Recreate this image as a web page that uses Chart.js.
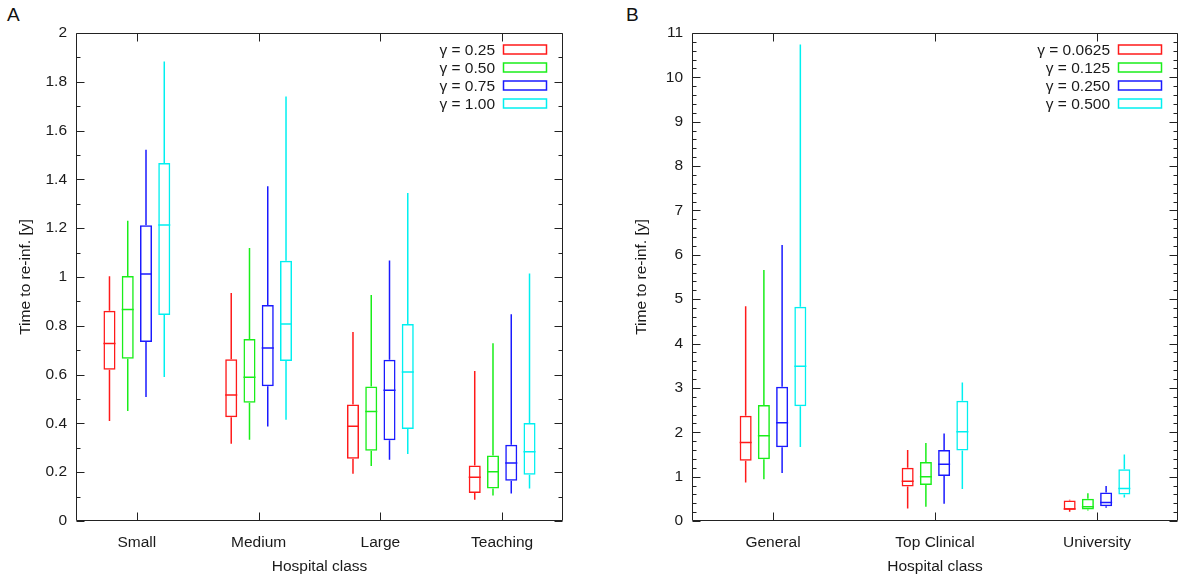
<!DOCTYPE html>
<html>
<head>
<meta charset="utf-8">
<script src="https://cdn.jsdelivr.net/npm/chart.js@4"></script>
<style>
  body { margin: 0; background: #fff; width: 1179px; height: 581px; overflow: hidden; position: relative; font-family: "Liberation Sans", Arial, sans-serif; }
  .panel { position: absolute; top: 0; }
  .tag { position: absolute; top: 5px; font-size: 19px; line-height: 19px; color: #111; }
</style>
</head>
<body>
<div class="tag" style="left:7px">A</div>
<div class="tag" style="left:626px">B</div>
<div class="panel" style="left:0px"><canvas id="chart-a" width="590" height="581"></canvas></div>
<div class="panel" style="left:616px"><canvas id="chart-b" width="563" height="581"></canvas></div>
<script>
// Panel A: hospital classes and gamma values
const categoriesA = ['Small', 'Medium', 'Large', 'Teaching'];
const gammaA = ['γ = 0.25', 'γ = 0.50', 'γ = 0.75', 'γ = 1.00'];
// each row: [whisker low, Q1, median, Q3, whisker high], one row per hospital class
const statsA1 = [[0.41, 0.62, 0.727, 0.862, 1.003], [0.317, 0.425, 0.516, 0.663, 0.934], [0.194, 0.255, 0.388, 0.477, 0.775], [0.087, 0.115, 0.179, 0.227, 0.615]];
const statsA2 = [[0.451, 0.665, 0.867, 1.004, 1.231], [0.333, 0.485, 0.589, 0.746, 1.119], [0.225, 0.288, 0.449, 0.551, 0.926], [0.105, 0.133, 0.202, 0.268, 0.728]];
const statsA3 = [[0.508, 0.734, 1.012, 1.212, 1.522], [0.387, 0.552, 0.709, 0.885, 1.372], [0.251, 0.331, 0.536, 0.661, 1.068], [0.113, 0.165, 0.238, 0.313, 0.847]];
const statsA4 = [[0.59, 0.844, 1.213, 1.467, 1.883], [0.415, 0.656, 0.807, 1.067, 1.74], [0.275, 0.377, 0.611, 0.807, 1.344], [0.133, 0.19, 0.284, 0.402, 1.014]];

// Panel B
const categoriesB = ['General', 'Top Clinical', 'University'];
const gammaB = ['γ = 0.0625', 'γ = 0.125', 'γ = 0.250', 'γ = 0.500'];
const statsB1 = [[0.87, 1.36, 1.77, 2.37, 4.84], [0.28, 0.775, 0.895, 1.2, 1.6], [0.21, 0.255, 0.27, 0.46, 0.48]];
const statsB2 = [[0.94, 1.39, 1.92, 2.615, 5.66], [0.32, 0.81, 1.0, 1.33, 1.76], [0.235, 0.26, 0.32, 0.5, 0.625]];
const statsB3 = [[1.08, 1.66, 2.216, 3.028, 6.22], [0.39, 1.015, 1.28, 1.6, 1.97], [0.3, 0.33, 0.415, 0.64, 0.79]];
const statsB4 = [[1.668, 2.584, 3.486, 4.83, 10.74], [0.72, 1.59, 2.01, 2.71, 3.12], [0.53, 0.6, 0.73, 1.165, 1.5]];

const colors = ['#ff1a1a', '#1aee1a', '#1a1aff', '#00f0f0'];
const textColor = '#1a1a1a';
const font15 = { family: '"Liberation Sans", Arial, sans-serif', size: 15.5 };

// whiskers, medians, frame with inward ticks, and the key
const boxPlugin = {
    id: 'boxes',
    afterDatasetsDraw(chart) {
        const ctx = chart.ctx;
        const y = chart.scales.y;
        ctx.save();
        chart.data.datasets.forEach((ds, i) => {
            const meta = chart.getDatasetMeta(i);
            ctx.strokeStyle = ds.borderColor;
            ctx.lineWidth = 1.5;
            meta.data.forEach((bar, j) => {
                const [lo, q1, med, q3, hi] = ds.stats[j];
                const half = bar.width / 2;
                ctx.beginPath();
                ctx.moveTo(bar.x, y.getPixelForValue(q3));
                ctx.lineTo(bar.x, y.getPixelForValue(hi));
                ctx.moveTo(bar.x, y.getPixelForValue(q1));
                ctx.lineTo(bar.x, y.getPixelForValue(lo));
                ctx.moveTo(bar.x - half, y.getPixelForValue(med));
                ctx.lineTo(bar.x + half, y.getPixelForValue(med));
                ctx.stroke();
            });
        });
        ctx.restore();
    },
    afterDraw(chart, args, opts) {
        const ctx = chart.ctx;
        const area = chart.chartArea;
        const x = chart.scales.x;
        const y = chart.scales.y;
        const L = Math.round(area.left) + 0.5, R = Math.round(area.right) - 0.5;
        const T = Math.round(area.top) + 0.5, B = Math.round(area.bottom) - 0.5;
        ctx.save();
        ctx.strokeStyle = '#222';
        ctx.lineWidth = 1;
        ctx.beginPath();
        ctx.rect(L, T, R - L, B - T);
        // y ticks, major and minor, on both sides
        const n = Math.round((y.max - y.min) / opts.minor);
        const every = Math.round(opts.major / opts.minor);
        for (let k = 0; k <= n; k++) {
            const py = Math.round(y.getPixelForValue(y.min + k * opts.minor)) + 0.5;
            const len = k % every === 0 ? 8 : 4;
            ctx.moveTo(L, py); ctx.lineTo(L + len, py);
            ctx.moveTo(R, py); ctx.lineTo(R - len, py);
        }
        // category ticks, bottom and top
        chart.data.labels.forEach((lab, i) => {
            const px = Math.round(x.getPixelForValue(i)) + 0.5;
            ctx.moveTo(px, B); ctx.lineTo(px, B - 8);
            ctx.moveTo(px, T); ctx.lineTo(px, T + 8);
        });
        ctx.stroke();

        // key
        ctx.font = '15.5px "Liberation Sans", Arial, sans-serif';
        ctx.textAlign = 'right';
        ctx.textBaseline = 'middle';
        chart.data.datasets.forEach((ds, i) => {
            const cy = area.top + 16.5 + 18 * i;
            ctx.fillStyle = textColor;
            ctx.fillText(ds.label, area.right - 68, cy + 1);
            ctx.strokeStyle = ds.borderColor;
            ctx.lineWidth = 1.5;
            ctx.strokeRect(area.right - 59.5, cy - 4.5, 43, 9);
        });
        ctx.restore();
    }
};

function createBoxChart(idChart, categories, labels, statsList, yMax, yStep, minorStep, catPct, padRight) {
    const ctx = document.getElementById(idChart).getContext('2d');
    const datasets = statsList.map((stats, i) => ({
        label: labels[i],
        data: stats.map(s => [s[1], s[3]]),
        stats: stats,
        backgroundColor: 'rgba(0,0,0,0)',
        borderColor: colors[i],
        borderWidth: 1.5,
        borderSkipped: false,
        categoryPercentage: catPct,
        barPercentage: 0.66,
    }));

    return new Chart(ctx, {
        type: 'bar',
        data: { labels: categories, datasets: datasets },
        options: {
            responsive: false,
            animation: false,
            devicePixelRatio: 1,
            layout: { padding: { top: 33, right: padRight, bottom: 5, left: 0 } },
            plugins: {
                legend: { display: false },
                tooltip: { enabled: false },
                boxes: { major: yStep, minor: minorStep },
            },
            scales: {
                x: {
                    grid: { display: false },
                    border: { display: false },
                    ticks: { color: textColor, font: font15, padding: 4, maxRotation: 0 },
                    title: { display: true, text: 'Hospital class', color: textColor, font: font15, padding: { top: 0, bottom: 0 } },
                    afterFit: (s) => { s.height = 55; },
                },
                y: {
                    min: 0,
                    max: yMax,
                    stacked: false,
                    grid: { display: false, drawTicks: false },
                    border: { display: false },
                    ticks: {
                        stepSize: yStep, color: textColor, font: font15, padding: 9,
                        callback: (v) => String(Number(v.toFixed(1))),
                    },
                    title: { display: true, text: 'Time to re-inf. [y]', color: textColor, font: font15, padding: { top: 16, bottom: 0 } },
                    afterFit: (s) => { s.width = 76; },
                },
            },
        },
        plugins: [boxPlugin],
    });
}

createBoxChart('chart-a', categoriesA, gammaA, [statsA1, statsA2, statsA3, statsA4], 2, 0.2, 0.1, 0.6, 27);
createBoxChart('chart-b', categoriesB, gammaB, [statsB1, statsB2, statsB3, statsB4], 11, 1, 0.2, 0.45, 1);
</script>
</body>
</html>
